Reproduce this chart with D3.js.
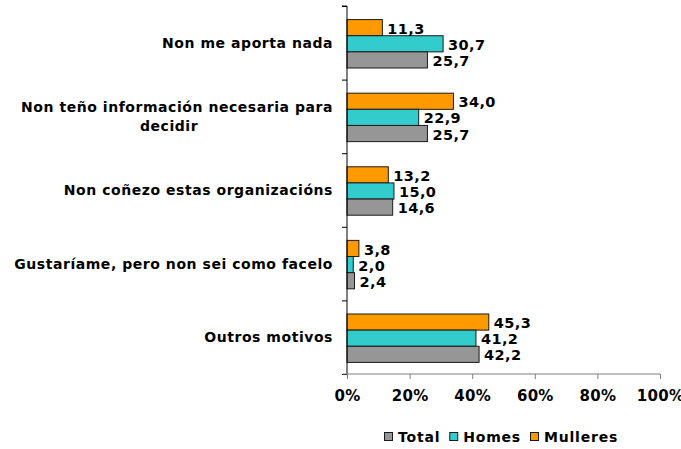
<!DOCTYPE html>
<html><head><meta charset="utf-8">
<script src="https://cdn.jsdelivr.net/npm/d3@7"></script>
<style>
body{margin:0;background:#fff}
text{font-family:"DejaVu Sans",Verdana,sans-serif;font-weight:bold;fill:#000}
</style>
</head><body>
<svg id="chart" width="681" height="449"></svg>
<script>
// Reasons, one per group (a "\n" marks a line break in the label)
const categories = [
  "Non me aporta nada",
  "Non teño información necesaria para\ndecidir",
  "Non coñezo estas organizacións",
  "Gustaríame, pero non sei como facelo",
  "Outros motivos"
];
const total    = [25.7, 25.7, 14.6, 2.4, 42.2];
const homes    = [30.7, 22.9, 15.0, 2.0, 41.2];
const mulleres = [11.3, 34.0, 13.2, 3.8, 45.3];
const seriesNames = ["Total", "Homes", "Mulleres"];
const xTicks = [0, 20, 40, 60, 80, 100];

const colors = {Total: "#969696", Homes: "#33CCCC", Mulleres: "#FF9900"};
const values = {Total: total, Homes: homes, Mulleres: mulleres};
// stacking order inside a group, top to bottom
const barOrder = ["Mulleres", "Homes", "Total"];

const svg = d3.select("#chart");
const plotLeft = 347, plotRight = 660, plotTop = 6, plotBottom = 374;

const x = d3.scaleLinear().domain([0, 100]).range([plotLeft, plotRight]);
const y = d3.scaleBand().domain(d3.range(categories.length)).range([plotTop, plotBottom]);
const yInner = d3.scaleBand().domain(barOrder).range([0, y.bandwidth()]).paddingOuter(0.78);
const fmt = v => d3.format(".1f")(v).replace(".", ",");

// bars
const groups = svg.append("g").selectAll("g")
  .data(categories.map((c, i) => i))
  .join("g")
  .attr("transform", i => `translate(0,${y(i) + 1})`);

groups.selectAll("rect")
  .data(i => barOrder.map(s => ({s, v: values[s][i]})))
  .join("rect")
  .attr("x", x(0))
  .attr("y", d => yInner(d.s))
  .attr("width", d => x(d.v) - x(0))
  .attr("height", yInner.bandwidth())
  .attr("fill", d => colors[d.s])
  .attr("stroke", "#1a1a1a")
  .attr("stroke-width", 1);

groups.selectAll("text")
  .data(i => barOrder.map(s => ({s, v: values[s][i]})))
  .join("text")
  .attr("x", d => x(d.v) + 5)
  .attr("y", d => yInner(d.s) + yInner.bandwidth() / 2)
  .attr("dy", "0.42em")
  .style("font-size", "14.5px")
  .style("letter-spacing", "0.4px")
  .text(d => fmt(d.v));

// y axis: line with ticks on the group boundaries
const yEdges = d3.scaleLinear().domain([0, categories.length]).range([plotTop, plotBottom]);
const yAxis = svg.append("g")
  .attr("transform", `translate(${plotLeft},0)`)
  .call(d3.axisLeft(yEdges).ticks(categories.length).tickSize(5).tickFormat(""));
yAxis.selectAll("path,line").attr("stroke", "#000");
yAxis.select(".domain").attr("d", `M-5,${plotTop}H0V${plotBottom}`);

// category labels
categories.forEach((c, i) => {
  const lines = c.split("\n");
  const cy = y(i) + y.bandwidth() / 2;
  const lh = 19;
  const g = svg.append("g");
  const t0 = g.append("text")
    .attr("x", 333).attr("y", cy - (lines.length - 1) * lh / 2)
    .attr("dy", "0.36em").attr("text-anchor", "end")
    .style("font-size", "14px").style("letter-spacing", "0.55px")
    .text(lines[0]);
  if (lines.length > 1) {
    const w = t0.node().getComputedTextLength();
    lines.slice(1).forEach((ln, k) => {
      g.append("text")
        .attr("x", 333 - w / 2 - 8).attr("y", cy - (lines.length - 1) * lh / 2 + (k + 1) * lh)
        .attr("dy", "0.36em").attr("text-anchor", "middle")
        .style("font-size", "14px").style("letter-spacing", "0.55px")
        .text(ln);
    });
  }
});

// x axis
const xAxis = svg.append("g")
  .attr("transform", `translate(0,${plotBottom})`)
  .call(d3.axisBottom(x).tickValues(xTicks).tickSize(5).tickSizeOuter(0).tickPadding(11).tickFormat(d => d + "%"));
xAxis.selectAll("path,line").attr("stroke", "#808080");
xAxis.selectAll("text")
  .style("font-size", "15px").style("letter-spacing", "0.3px")
  .style("font-family", '"DejaVu Sans",Verdana,sans-serif').style("font-weight", "bold").attr("fill", "#000");
xAxis.select(".domain").attr("d", `M${plotLeft - 4},0H${plotRight}`);

// legend
const legend = svg.append("g").attr("transform", "translate(384,437)");
let lx = 0;
seriesNames.forEach(s => {
  const item = legend.append("g").attr("transform", `translate(${lx},0)`);
  item.append("rect").attr("x", 0.5).attr("y", -4.5).attr("width", 8).attr("height", 8)
    .attr("fill", colors[s]).attr("stroke", "#1a1a1a");
  const t = item.append("text").attr("x", 14).attr("dy", "0.36em")
    .style("font-size", "14px").style("letter-spacing", "0.8px").text(s);
  lx += 14 + t.node().getComputedTextLength() + 9;
});
</script>
</body></html>
